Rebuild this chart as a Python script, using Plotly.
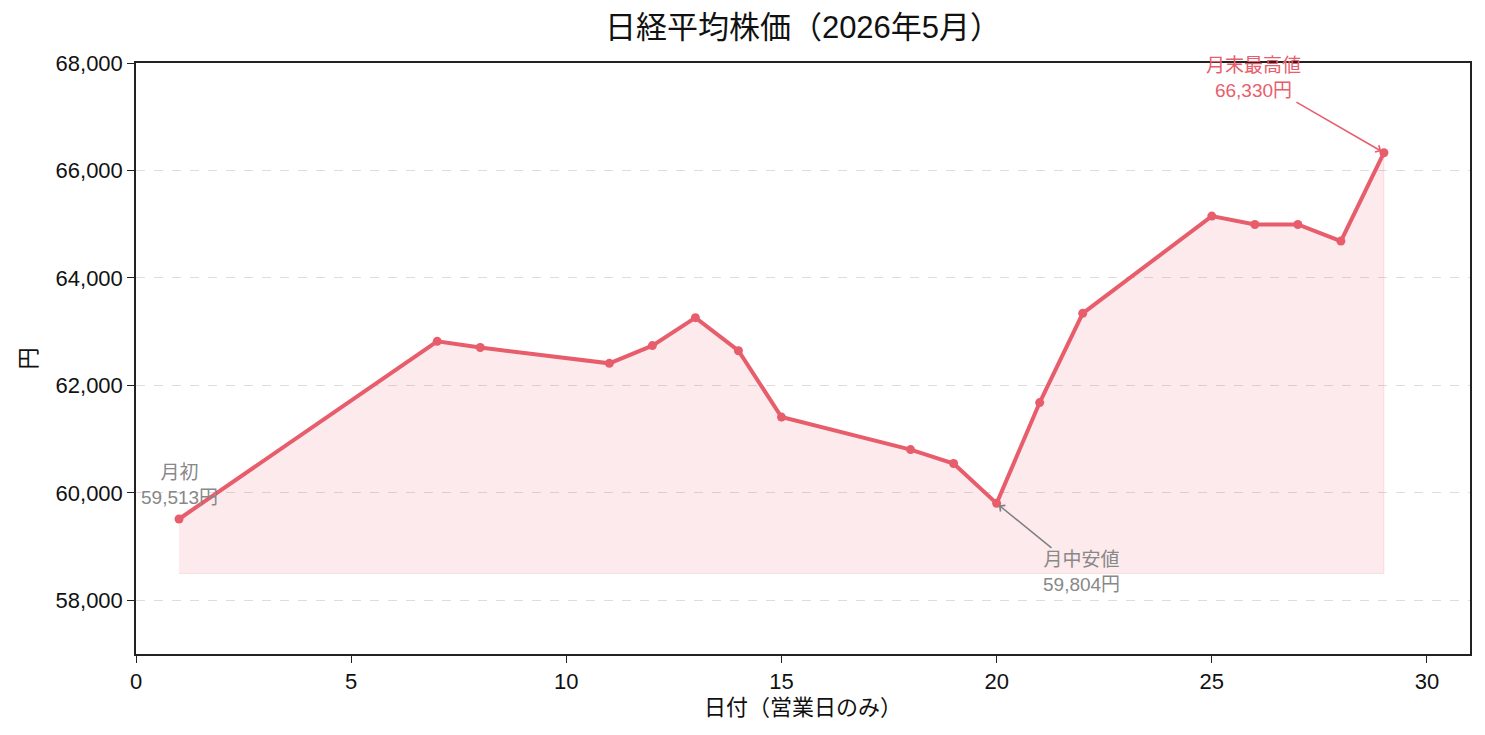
import plotly.graph_objects as go

days = [1, 7, 8, 11, 12, 13, 14, 15, 18, 19, 20, 21, 22, 25, 26, 27, 28, 29]
prices = [59513, 62820, 62705, 62410, 62740, 63260, 62645, 61410, 60805, 60545,
          59804, 61680, 63340, 65150, 64995, 64995, 64685, 66330]
fill_base = 58500
x_ticks = [0, 5, 10, 15, 20, 25, 30]
y_ticks = [58000, 60000, 62000, 64000, 66000, 68000]

LINE = "#e85d6c"
FONT = "Liberation Sans, Noto Sans CJK JP, sans-serif"

fig = go.Figure()
fig.add_trace(go.Scatter(
    x=days + days[::-1],
    y=prices + [fill_base] * len(days),
    fill="toself",
    fillcolor="rgba(232,93,108,0.13)",
    line=dict(color="rgba(232,93,108,0.15)", width=1),
    mode="lines", hoverinfo="skip", showlegend=False,
))
fig.add_trace(go.Scatter(
    x=days, y=prices, mode="lines+markers",
    line=dict(color=LINE, width=4),
    marker=dict(color=LINE, size=9),
    showlegend=False,
))

i_first = 0
i_min = prices.index(min(prices[1:]))
i_last = len(prices) - 1

fig.add_annotation(x=days[i_first], y=prices[i_first],
                   text=f"月初<br>{prices[i_first]:,}円", showarrow=False,
                   yshift=34, font=dict(size=19, color="#888888", family=FONT))
fig.add_annotation(x=days[i_min], y=prices[i_min],
                   text=f"月中安値<br>{prices[i_min]:,}円", showarrow=True,
                   ax=85, ay=69, arrowhead=4, arrowsize=1, arrowwidth=1.5,
                   arrowcolor="#808080", standoff=3,
                   font=dict(size=19, color="#888888", family=FONT))
fig.add_annotation(x=days[i_last], y=prices[i_last],
                   text=f"月末最高値<br>{prices[i_last]:,}円", showarrow=True,
                   ax=-130, ay=-75, arrowhead=4, arrowsize=1, arrowwidth=1.5,
                   arrowcolor=LINE, standoff=3,
                   font=dict(size=19, color=LINE, family=FONT))

fig.update_layout(
    width=1485, height=735,
    margin=dict(l=136, r=15, t=63, b=81),
    paper_bgcolor="white", plot_bgcolor="white",
    font=dict(family=FONT, color="#111111", size=22),
    title=dict(text="日経平均株価（2026年5月）", xref="paper", x=0.5, xanchor="center",
               y=0.963, yanchor="middle", font=dict(size=31, color="#111111")),
    xaxis=dict(range=[0, 31], tickvals=x_ticks, showgrid=False,
               showline=True, linecolor="#222222", linewidth=1.5, mirror=True,
               ticks="outside", ticklen=7, tickcolor="#222222",
               title=dict(text="日付（営業日のみ）", standoff=6, font=dict(size=22)),
               tickfont=dict(size=22), zeroline=False),
    yaxis=dict(range=[57000, 68000], tickvals=y_ticks, tickformat=",",
               showgrid=True, gridcolor="#dddddd", griddash="dash", gridwidth=1,
               showline=True, linecolor="#222222", linewidth=1.5, mirror=True,
               ticks="outside", ticklen=7, tickcolor="#222222",
               title=dict(text="円", standoff=13, font=dict(size=22)),
               tickfont=dict(size=22), zeroline=False),
)

fig.write_html("out.html")
